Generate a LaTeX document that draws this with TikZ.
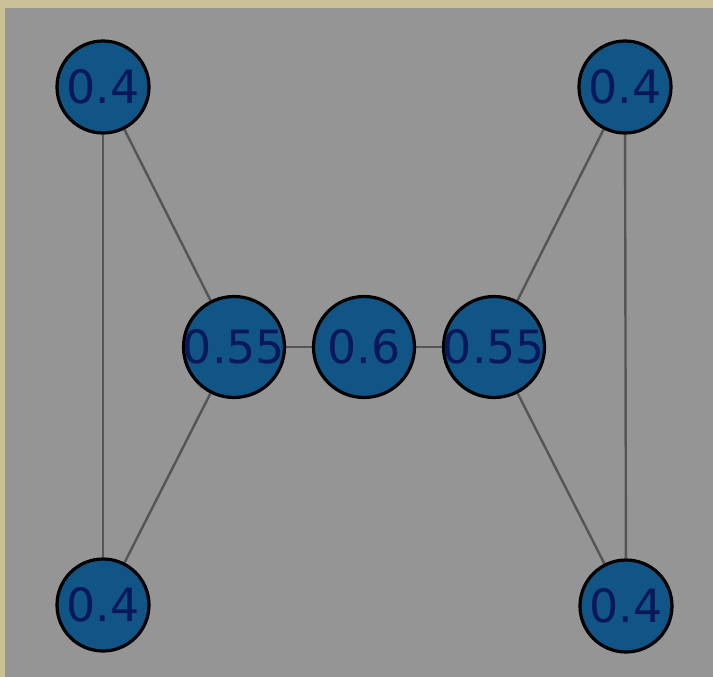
\documentclass[tikz,border=0pt]{standalone}
\usepackage{fontspec}
\setmainfont{DejaVu Sans}
\definecolor{frame}{RGB}{200,193,152}
\definecolor{bg}{RGB}{149,149,149}
\definecolor{nodefill}{RGB}{17,84,134}
\definecolor{txt}{RGB}{10,24,90}
\definecolor{edge}{RGB}{85,85,85}
\newcommand\vlbl[1]{\makebox[0pt]{#1}}
\pgfdeclarelayer{backdrop}
\pgfdeclarelayer{edges}
\pgfsetlayers{backdrop,edges,main}
\begin{document}
\begin{tikzpicture}[x=1bp,y=-1bp,
  vert/.style={circle,draw=black,line width=3.2bp,fill=nodefill,text=txt,inner sep=0pt,
    font=\fontsize{46}{46}\selectfont},
  outer/.style={vert,minimum size=92bp},
  inner/.style={vert,minimum size=101bp},
  link/.style={draw=edge,line width=2.4bp}]
\begin{pgfonlayer}{backdrop}
\fill[frame] (0,0) rectangle (713,677);
\fill[bg] (5,8) rectangle (713,677);
\end{pgfonlayer}
\useasboundingbox (0,0) rectangle (713,677);
\node[outer] (tl) at (103,87) {\vlbl{0.4}};
\node[outer] (tr) at (625,87) {\vlbl{0.4}};
\node[outer] (bl) at (103,605) {\vlbl{0.4}};
\node[outer] (br) at (626,606) {\vlbl{0.4}};
\node[inner] (ml) at (234,347) {\vlbl{0.55}};
\node[inner] (c) at (364,347) {\vlbl{0.6}};
\node[inner] (mr) at (494,347) {\vlbl{0.55}};
\begin{pgfonlayer}{edges}
\path[link] (tl) -- (bl);
\path[link] (tl) -- (ml);
\path[link] (bl) -- (ml);
\path[link] (ml) -- (c);
\path[link] (c) -- (mr);
\path[link] (mr) -- (tr);
\path[link] (mr) -- (br);
\path[link] (tr) -- (br);
\end{pgfonlayer}
\end{tikzpicture}
\end{document}
